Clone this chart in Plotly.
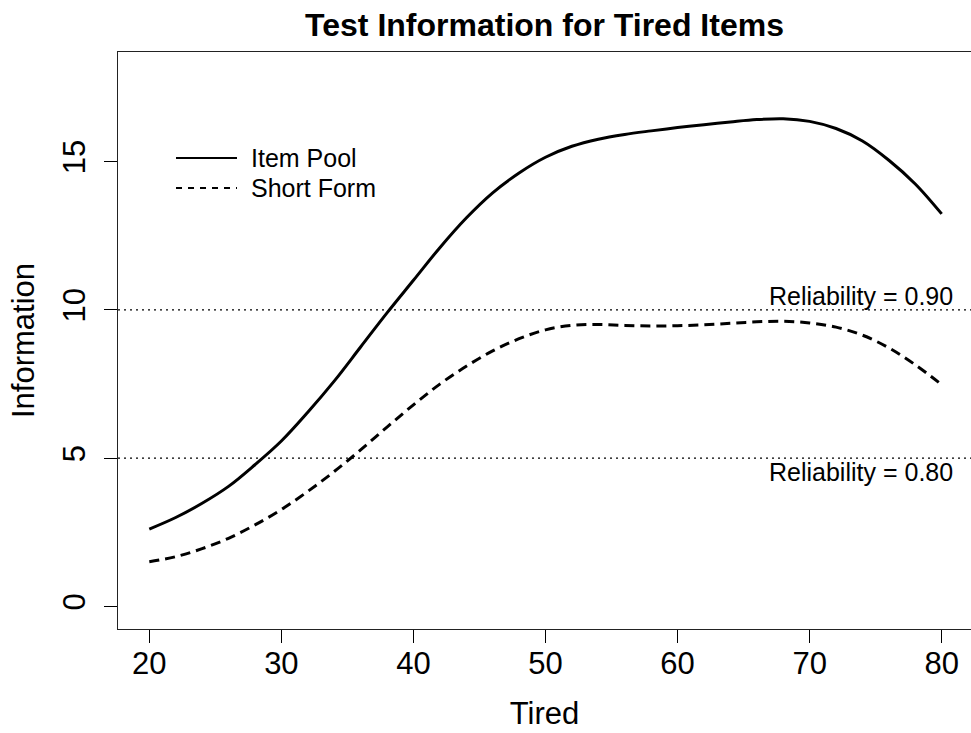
import plotly.graph_objects as go

# Data
pool_x = [20, 22, 24, 26, 28, 30, 32, 34, 36, 38, 40, 42, 44, 46, 48, 50,
          52, 54, 56, 58, 60, 62, 64, 66, 68, 70, 72, 74, 76, 78, 80]
pool_y = [2.61, 3.0, 3.48, 4.05, 4.78, 5.58, 6.55, 7.6, 8.75, 9.9, 11.0, 12.1, 13.1,
          13.95, 14.62, 15.15, 15.52, 15.76, 15.92, 16.04, 16.15, 16.25, 16.34, 16.42,
          16.45, 16.36, 16.12, 15.7, 15.05, 14.25, 13.24]

short_x = [20, 22, 24, 26, 28, 30, 32, 34, 36, 38, 40, 42, 44, 46, 48, 50,
           52, 54, 56, 58, 60, 62, 64, 66, 68, 70, 72, 74, 76, 78, 80]
short_y = [1.51, 1.68, 1.95, 2.3, 2.75, 3.27, 3.88, 4.55, 5.28, 6.05, 6.8, 7.5, 8.1,
           8.62, 9.03, 9.33, 9.48, 9.51, 9.48, 9.46, 9.47, 9.5, 9.55, 9.6, 9.62, 9.56,
           9.42, 9.15, 8.72, 8.15, 7.48]

reliability_levels = [10, 5]
reliability_labels = ["Reliability = 0.90", "Reliability = 0.80"]

x_ticks = [20, 30, 40, 50, 60, 70, 80]
y_ticks = [0, 5, 10, 15]

series_names = ["Item Pool", "Short Form"]

FONT = "Liberation Sans, Arial, Helvetica, sans-serif"

fig = go.Figure()
fig.add_trace(go.Scatter(x=pool_x, y=pool_y, mode="lines", name=series_names[0],
                         line=dict(color="black", width=3, shape="spline"),
                         showlegend=False))
fig.add_trace(go.Scatter(x=short_x, y=short_y, mode="lines", name=series_names[1],
                         line=dict(color="black", width=3, dash="10px,6px", shape="spline"),
                         showlegend=False))

shapes = []
annotations = []
for lvl in reliability_levels:
    shapes.append(dict(type="line", xref="paper", x0=0, x1=1, yref="y", y0=lvl, y1=lvl,
                       line=dict(color="black", width=1.3, dash="2px,4px")))
annotations.append(dict(x=81.04, y=10.48, xref="x", yref="y", text=reliability_labels[0],
                        showarrow=False, xanchor="right", yanchor="middle",
                        font=dict(family=FONT, size=25, color="black")))
annotations.append(dict(x=81.04, y=4.54, xref="x", yref="y", text=reliability_labels[1],
                        showarrow=False, xanchor="right", yanchor="middle",
                        font=dict(family=FONT, size=25, color="black")))

# manual legend (R style)
leg_y = [0.8163, 0.7643]
leg_dash = ["solid", "6px,6px"]
for name, yy, dsh in zip(series_names, leg_y, leg_dash):
    shapes.append(dict(type="line", xref="paper", yref="paper", x0=0.068, x1=0.1395,
                       y0=yy, y1=yy, line=dict(color="black", width=2, dash=dsh)))
    annotations.append(dict(x=0.1535, y=yy, xref="paper", yref="paper", text=name,
                            showarrow=False, xanchor="left", yanchor="middle",
                            font=dict(family=FONT, size=25, color="black")))

fig.update_layout(
    width=971, height=733,
    margin=dict(l=118, r=0, t=52, b=104),
    paper_bgcolor="white", plot_bgcolor="white",
    font=dict(family=FONT, color="black"),
    title=dict(text="<b>Test Information for Tired Items</b>", x=0.5, xref="paper",
               xanchor="center", y=1 - 25 / 733, yref="container", yanchor="middle",
               font=dict(family=FONT, size=32, color="black")),
    shapes=shapes, annotations=annotations,
)
fig.update_xaxes(range=[17.63, 82.22], tickvals=x_ticks, ticks="outside", ticklen=13,
                 tickwidth=1.3, tickcolor="black", showline=True, linecolor="#222",
                 linewidth=1.3, mirror=True, showgrid=False, zeroline=False,
                 automargin=False, ticklabelstandoff=-6,
                 tickfont=dict(family=FONT, size=31, color="black"),
                 title=dict(text="Tired", font=dict(family=FONT, size=31, color="black"),
                            standoff=21))
fig.update_yaxes(range=[-0.76, 18.7], tickvals=y_ticks, ticks="outside", ticklen=13,
                 tickwidth=1.3, tickcolor="black", showline=True, linecolor="#222",
                 linewidth=1.3, mirror=False, showgrid=False, zeroline=False,
                 automargin=False, tickangle=-90, ticklabelstandoff=6,
                 tickfont=dict(family=FONT, size=31, color="black"),
                 title=dict(text="Information", font=dict(family=FONT, size=31, color="black"),
                            standoff=13))

fig.write_html("out.html", config={"displayModeBar": False},
               post_script="document.body.style.margin='0';")
